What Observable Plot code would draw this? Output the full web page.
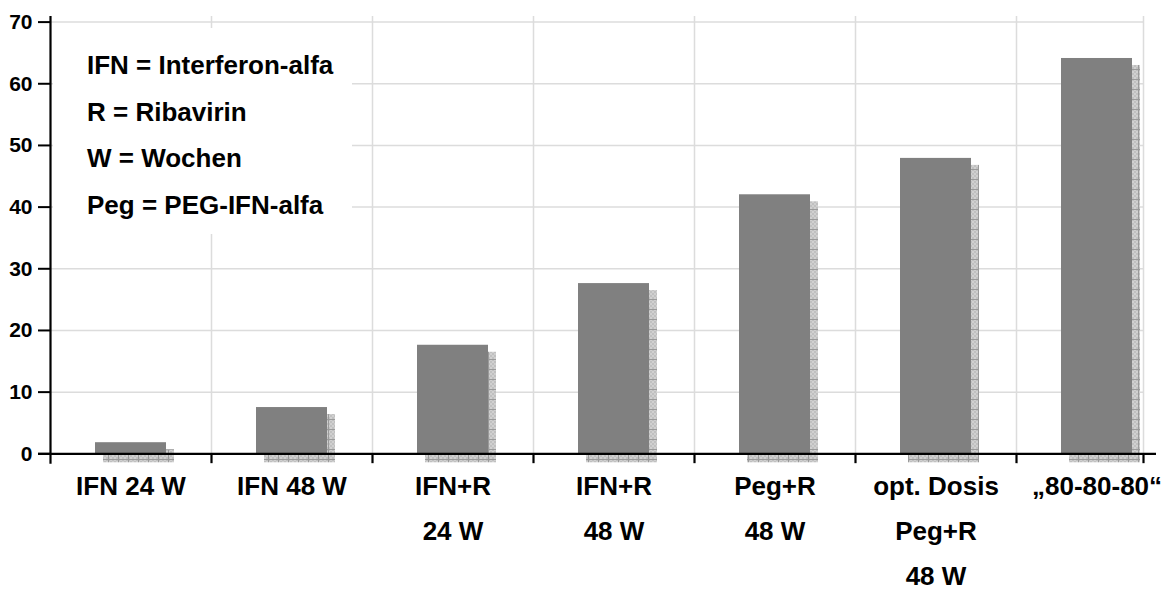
<!DOCTYPE html>
<html>
<head>
<meta charset="utf-8">
<script src="https://cdn.jsdelivr.net/npm/d3@7"></script>
<script src="https://cdn.jsdelivr.net/npm/@observablehq/plot@0.6"></script>
<style>
  html, body { margin: 0; padding: 0; background: #fff; }
  #wrap { position: relative; width: 1168px; height: 593px; overflow: hidden; }
  #legend {
    position: absolute; left: 53px; top: 28px; width: 299px; height: 206px;
    background: #fff; box-sizing: border-box; padding: 14px 0 0 34px;
    font-family: "Liberation Sans", Arial, sans-serif; font-weight: bold;
    font-size: 26px; line-height: 46.5px; color: #000; white-space: nowrap;
  }
</style>
</head>
<body>
<div id="wrap"></div>
<script>
const categories = ["IFN 24 W", "IFN 48 W", "IFN+R\n24 W", "IFN+R\n48 W", "Peg+R\n48 W", "opt. Dosis\nPeg+R\n48 W", "\u201E80-80-80\u201C"];
const values = [1.8, 7.5, 17.6, 27.6, 42.0, 47.9, 64.1];
const yTicks = [0, 10, 20, 30, 40, 50, 60, 70];
const legendLines = ["IFN = Interferon-alfa", "R = Ribavirin", "W = Wochen", "Peg = PEG-IFN-alfa"];

const data = categories.map((c, i) => ({category: c, value: values[i]}));
const halfStep = 80.5;

const chart = Plot.plot({
  width: 1168,
  height: 593,
  marginTop: 16,
  marginBottom: 140,
  marginLeft: 50,
  marginRight: 12,
  style: {fontFamily: "Liberation Sans, Arial, sans-serif", fontWeight: "bold", color: "#000", background: "#fff"},
  x: {domain: categories, range: [50, 1177], paddingInner: 0.56, paddingOuter: 0.28, label: null},
  y: {domain: [0, 70], range: [453.3, 21.6], label: null},
  marks: [
    Plot.ruleY(yTicks.slice(1), {stroke: "#dcdcdc", strokeWidth: 1.5, insetRight: 13}),
    Plot.ruleX(categories.slice(1), {x: d => d, dx: -halfStep, stroke: "#dcdcdc", strokeWidth: 1.5}),
    Plot.ruleX(categories.slice(-1), {x: d => d, dx: 46.5, stroke: "#dcdcdc", strokeWidth: 1.5}),
    Plot.barY(data, {x: "category", y: "value", fill: "url(#shadowPattern)", dx: 8, dy: 9, insetTop: -2}),
    Plot.barY(data, {x: "category", y: "value", fill: "#808080"}),
    Plot.ruleY([0], {stroke: "#000", strokeWidth: 2.2, insetLeft: -12}),
    Plot.ruleX(categories.slice(0, 1), {x: d => d, dx: -halfStep, y1: -1.7, y2: 70.9, stroke: "#000", strokeWidth: 2.2}),
    Plot.ruleX(categories.slice(1), {x: d => d, dx: -halfStep, y1: 0, y2: -1.6, stroke: "#000", strokeWidth: 2.2}),
    Plot.ruleX(categories.slice(-1), {x: d => d, dx: 46.5, y1: 0, y2: -1.6, stroke: "#000", strokeWidth: 2.2}),
    Plot.axisY({ticks: yTicks, tickSize: 12, tickPadding: 6, fontSize: 21, strokeWidth: 2, tickFormat: d => String(d)}),
    Plot.axisX({tickSize: 0, tickPadding: 10, fontSize: 26, lineHeight: 1.72})
  ]
});

d3.select(chart).insert("defs", ":first-child").html(`
  <pattern id="checker" width="4" height="4" patternUnits="userSpaceOnUse">
    <rect width="4" height="4" fill="#d0d0d0"/>
    <rect width="2" height="2" fill="#c0c0c0"/>
    <rect x="2" y="2" width="2" height="2" fill="#c0c0c0"/>
  </pattern>
  <pattern id="shadowPattern" width="10" height="10" patternUnits="userSpaceOnUse">
    <rect width="10" height="10" fill="url(#checker)"/>
    <path d="M0,0.5H10M0.5,0V10" stroke="#9a9a9a" stroke-width="1"/>
  </pattern>
`);

const wrap = document.getElementById("wrap");
wrap.appendChild(chart);
const legend = document.createElement("div");
legend.id = "legend";
legend.innerHTML = legendLines.map(l => `<div>${l}</div>`).join("");
wrap.appendChild(legend);
</script>
</body>
</html>
